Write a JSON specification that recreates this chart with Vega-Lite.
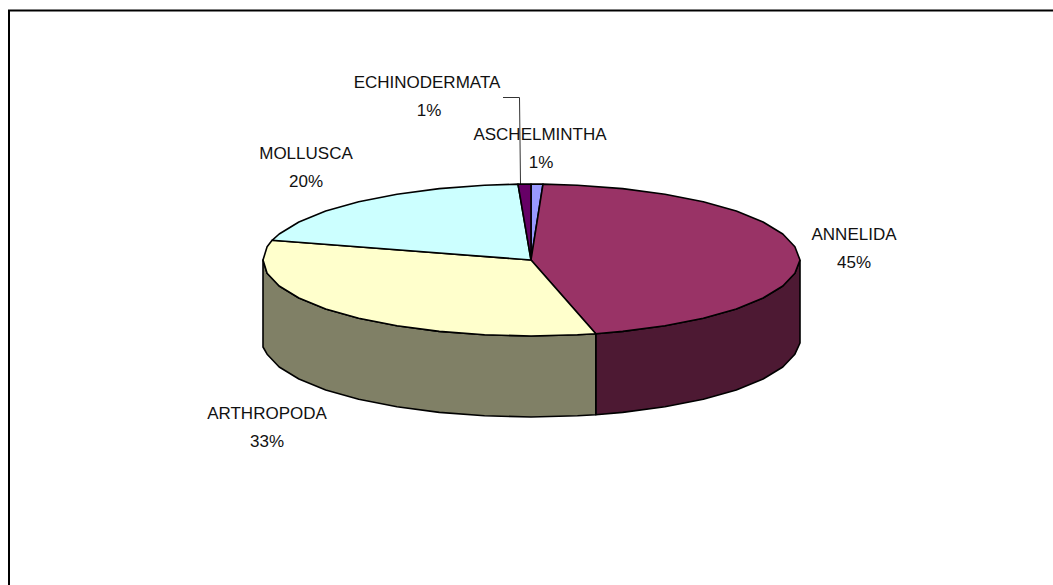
{"$schema":"https://vega.github.io/schema/vega-lite/v6.json","width":1053,"height":585,"padding":0,"autosize":{"type":"none"},"background":"white","config":{"view":{"stroke":null}},
"datasets":{"outline":[
{"s":"ANNELIDA side","i":0,"x":800,"y":260},{"s":"ANNELIDA side","i":1,"x":794.9,"y":273.2},{"s":"ANNELIDA side","i":2,"x":782.8,"y":286},{"s":"ANNELIDA side","i":3,"x":763.1,"y":298},{"s":"ANNELIDA side","i":4,"x":736.3,"y":308.9},{"s":"ANNELIDA side","i":5,"x":703.3,"y":318.2},{"s":"ANNELIDA side","i":6,"x":665,"y":325.8},{"s":"ANNELIDA side","i":7,"x":622.7,"y":331.4},{"s":"ANNELIDA side","i":8,"x":595.8,"y":333.7},{"s":"ANNELIDA side","i":9,"x":595.8,"y":414.7},{"s":"ANNELIDA side","i":10,"x":622.7,"y":412.4},{"s":"ANNELIDA side","i":11,"x":665,"y":406.8},{"s":"ANNELIDA side","i":12,"x":703.3,"y":399.2},{"s":"ANNELIDA side","i":13,"x":736.3,"y":389.9},{"s":"ANNELIDA side","i":14,"x":763.1,"y":379},{"s":"ANNELIDA side","i":15,"x":782.8,"y":367},{"s":"ANNELIDA side","i":16,"x":794.9,"y":354.2},{"s":"ANNELIDA side","i":17,"x":800,"y":343},{"s":"ANNELIDA side","i":18,"x":800,"y":260},
{"s":"ARTHROPODA side","i":0,"x":595.8,"y":333.7},{"s":"ARTHROPODA side","i":1,"x":577.5,"y":334.8},{"s":"ARTHROPODA side","i":2,"x":531,"y":336},{"s":"ARTHROPODA side","i":3,"x":484.5,"y":334.8},{"s":"ARTHROPODA side","i":4,"x":439.3,"y":331.4},{"s":"ARTHROPODA side","i":5,"x":397,"y":325.8},{"s":"ARTHROPODA side","i":6,"x":358.7,"y":318.2},{"s":"ARTHROPODA side","i":7,"x":325.7,"y":308.9},{"s":"ARTHROPODA side","i":8,"x":298.9,"y":298},{"s":"ARTHROPODA side","i":9,"x":279.2,"y":286},{"s":"ARTHROPODA side","i":10,"x":267.1,"y":273.2},{"s":"ARTHROPODA side","i":11,"x":263,"y":260},{"s":"ARTHROPODA side","i":12,"x":263,"y":347},{"s":"ARTHROPODA side","i":13,"x":267.1,"y":354.2},{"s":"ARTHROPODA side","i":14,"x":279.2,"y":367},{"s":"ARTHROPODA side","i":15,"x":298.9,"y":379},{"s":"ARTHROPODA side","i":16,"x":325.7,"y":389.9},{"s":"ARTHROPODA side","i":17,"x":358.7,"y":399.2},{"s":"ARTHROPODA side","i":18,"x":397,"y":406.8},{"s":"ARTHROPODA side","i":19,"x":439.3,"y":412.4},{"s":"ARTHROPODA side","i":20,"x":484.5,"y":415.8},{"s":"ARTHROPODA side","i":21,"x":531,"y":417},{"s":"ARTHROPODA side","i":22,"x":577.5,"y":415.8},{"s":"ARTHROPODA side","i":23,"x":595.8,"y":414.7},{"s":"ARTHROPODA side","i":24,"x":595.8,"y":333.7},
{"s":"ASCHELMINTHA","i":0,"x":531,"y":260},{"s":"ASCHELMINTHA","i":1,"x":531,"y":184},{"s":"ASCHELMINTHA","i":2,"x":543,"y":184.1},{"s":"ASCHELMINTHA","i":3,"x":531,"y":260},
{"s":"ANNELIDA","i":0,"x":531,"y":260},{"s":"ANNELIDA","i":1,"x":543,"y":184.1},{"s":"ANNELIDA","i":2,"x":577.5,"y":185.2},{"s":"ANNELIDA","i":3,"x":622.7,"y":188.6},{"s":"ANNELIDA","i":4,"x":665,"y":194.2},{"s":"ANNELIDA","i":5,"x":703.3,"y":201.8},{"s":"ANNELIDA","i":6,"x":736.3,"y":211.1},{"s":"ANNELIDA","i":7,"x":763.1,"y":222},{"s":"ANNELIDA","i":8,"x":782.8,"y":234},{"s":"ANNELIDA","i":9,"x":794.9,"y":246.8},{"s":"ANNELIDA","i":10,"x":800,"y":260},{"s":"ANNELIDA","i":11,"x":794.9,"y":273.2},{"s":"ANNELIDA","i":12,"x":782.8,"y":286},{"s":"ANNELIDA","i":13,"x":763.1,"y":298},{"s":"ANNELIDA","i":14,"x":736.3,"y":308.9},{"s":"ANNELIDA","i":15,"x":703.3,"y":318.2},{"s":"ANNELIDA","i":16,"x":665,"y":325.8},{"s":"ANNELIDA","i":17,"x":622.7,"y":331.4},{"s":"ANNELIDA","i":18,"x":595.8,"y":333.7},{"s":"ANNELIDA","i":19,"x":531,"y":260},
{"s":"ARTHROPODA","i":0,"x":531,"y":260},{"s":"ARTHROPODA","i":1,"x":595.8,"y":333.7},{"s":"ARTHROPODA","i":2,"x":577.5,"y":334.8},{"s":"ARTHROPODA","i":3,"x":531,"y":336},{"s":"ARTHROPODA","i":4,"x":484.5,"y":334.8},{"s":"ARTHROPODA","i":5,"x":439.3,"y":331.4},{"s":"ARTHROPODA","i":6,"x":397,"y":325.8},{"s":"ARTHROPODA","i":7,"x":358.7,"y":318.2},{"s":"ARTHROPODA","i":8,"x":325.7,"y":308.9},{"s":"ARTHROPODA","i":9,"x":298.9,"y":298},{"s":"ARTHROPODA","i":10,"x":279.2,"y":286},{"s":"ARTHROPODA","i":11,"x":267.1,"y":273.2},{"s":"ARTHROPODA","i":12,"x":263,"y":260},{"s":"ARTHROPODA","i":13,"x":267.1,"y":246.8},{"s":"ARTHROPODA","i":14,"x":272.1,"y":240.3},{"s":"ARTHROPODA","i":15,"x":531,"y":260},
{"s":"MOLLUSCA","i":0,"x":531,"y":260},{"s":"MOLLUSCA","i":1,"x":272.1,"y":240.3},{"s":"MOLLUSCA","i":2,"x":279.2,"y":234},{"s":"MOLLUSCA","i":3,"x":298.9,"y":222},{"s":"MOLLUSCA","i":4,"x":325.7,"y":211.1},{"s":"MOLLUSCA","i":5,"x":358.7,"y":201.8},{"s":"MOLLUSCA","i":6,"x":397,"y":194.2},{"s":"MOLLUSCA","i":7,"x":439.3,"y":188.6},{"s":"MOLLUSCA","i":8,"x":484.5,"y":185.2},{"s":"MOLLUSCA","i":9,"x":518,"y":184.1},{"s":"MOLLUSCA","i":10,"x":531,"y":260},
{"s":"ECHINODERMATA","i":0,"x":531,"y":260},{"s":"ECHINODERMATA","i":1,"x":518,"y":184.1},{"s":"ECHINODERMATA","i":2,"x":531,"y":184},{"s":"ECHINODERMATA","i":3,"x":531,"y":260}
],
"frame":[{"x":9,"y":585,"i":0},{"x":9,"y":10.5,"i":1},{"x":1053,"y":10.5,"i":2}],
"leader":[{"x":503,"y":97.5,"i":0},{"x":519.5,"y":97.5,"i":1},{"x":520.5,"y":184,"i":2}],
"labels":[
{"t":"ANNELIDA","x":854,"y":240},{"t":"45%","x":854,"y":268},
{"t":"ARTHROPODA","x":267,"y":419},{"t":"33%","x":267,"y":447},
{"t":"ECHINODERMATA","x":427,"y":88},{"t":"1%","x":429,"y":116},
{"t":"ASCHELMINTHA","x":540,"y":140},{"t":"1%","x":541,"y":168},
{"t":"MOLLUSCA","x":306,"y":159},{"t":"20%","x":306,"y":187}
]},
"encoding":{"x":{"field":"x","type":"quantitative","scale":{"domain":[0,1053],"nice":false,"zero":false},"axis":null},"y":{"field":"y","type":"quantitative","scale":{"domain":[585,0],"nice":false,"zero":false},"axis":null}},
"layer":[
{"data":{"name":"frame"},"mark":{"type":"line","stroke":"#000000","strokeWidth":2},"encoding":{"order":{"field":"i"}}},
{"data":{"name":"leader"},"mark":{"type":"line","stroke":"#333333","strokeWidth":1},"encoding":{"order":{"field":"i"}}},
{"data":{"name":"outline"},"mark":{"type":"line","stroke":"#000000","strokeWidth":1.6,"strokeJoin":"round"},"encoding":{"order":{"field":"i"},"fill":{"field":"s","type":"nominal","legend":null,"scale":{"domain":["ANNELIDA side","ARTHROPODA side","ASCHELMINTHA","ANNELIDA","ARTHROPODA","MOLLUSCA","ECHINODERMATA"],"range":["#4D1933","#808066","#9999FF","#993366","#FFFFCC","#CCFFFF","#660066"]}}}},
{"data":{"name":"labels"},"mark":{"type":"text","font":"Liberation Sans","fontSize":17,"align":"center","baseline":"alphabetic","fill":"#111111"},"encoding":{"text":{"field":"t","type":"nominal"}}}
]}
